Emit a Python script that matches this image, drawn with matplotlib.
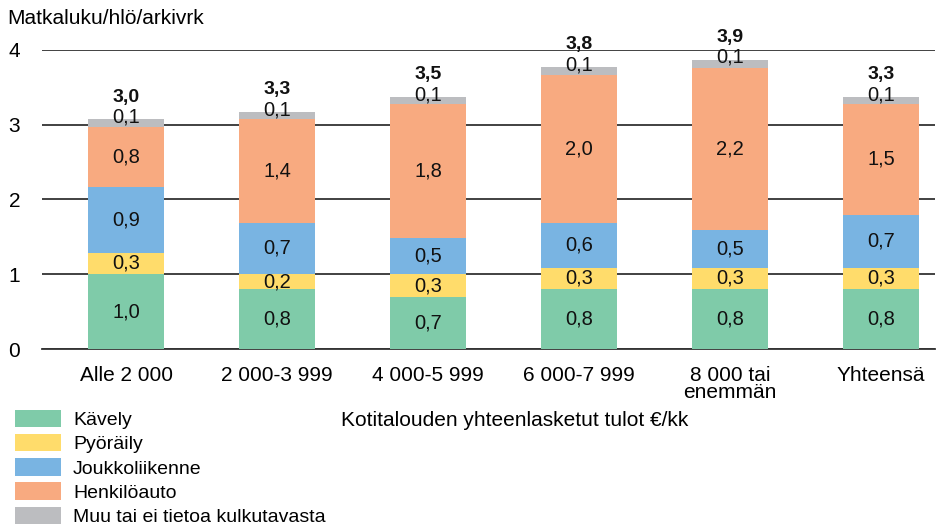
import matplotlib.pyplot as plt
import numpy as np
from matplotlib.patches import Patch

plt.rcParams['font.family'] = ['Liberation Sans', 'DejaVu Sans']

categories = ['Alle 2 000', '2 000-3 999', '4 000-5 999', '6 000-7 999', '8 000 tai\nenemmän', 'Yhteensä']
kavely = [1.0, 0.8, 0.69, 0.8, 0.8, 0.8]
pyoraily = [0.29, 0.2, 0.31, 0.29, 0.29, 0.29]
joukko = [0.88, 0.69, 0.48, 0.6, 0.5, 0.7]
auto = [0.8, 1.39, 1.8, 1.98, 2.17, 1.49]
muu = [0.1, 0.09, 0.09, 0.1, 0.11, 0.09]
segment_labels = [
    ['1,0', '0,8', '0,7', '0,8', '0,8', '0,8'],
    ['0,3', '0,2', '0,3', '0,3', '0,3', '0,3'],
    ['0,9', '0,7', '0,5', '0,6', '0,5', '0,7'],
    ['0,8', '1,4', '1,8', '2,0', '2,2', '1,5'],
    ['0,1', '0,1', '0,1', '0,1', '0,1', '0,1'],
]
totals = ['3,0', '3,3', '3,5', '3,8', '3,9', '3,3']
series_names = ['Kävely', 'Pyöräily', 'Joukkoliikenne', 'Henkilöauto', 'Muu tai ei tietoa kulkutavasta']
colors = ['#7fcba9', '#ffdc6b', '#79b4e2', '#f8aa80', '#bcbdc0']

fig = plt.figure(figsize=(9.39, 5.26), dpi=100)
ax = fig.add_axes([0.045, 0.3365, 0.951, 0.5685])

x = np.arange(len(categories))
series = [kavely, pyoraily, joukko, auto, muu]
bottom = np.zeros(len(categories))
for i, vals in enumerate(series):
    vals = np.array(vals)
    ax.bar(x, vals, 0.5, bottom=bottom, color=colors[i], zorder=3)
    for j in range(len(x)):
        if i == 4:
            ypos = bottom[j] + vals[j] + 0.03
        else:
            ypos = bottom[j] + vals[j] / 2
        ax.text(x[j], ypos, segment_labels[i][j], ha='center', va='center',
                fontsize=14.5, color='#111111', zorder=4)
    bottom = bottom + vals

for j in range(len(x)):
    ax.text(x[j], bottom[j] + 0.3, totals[j], ha='center', va='center',
            fontsize=14, fontweight='bold', color='#111111')

ax.set_xlim(-0.556, 5.36)
ax.set_ylim(0, 4)
ax.set_yticks([0, 1, 2, 3, 4])
ax.set_yticklabels(['0', '1', '2', '3', '4'], fontsize=15)
ax.set_xticks(x)
ax.set_xticklabels(categories, fontsize=15, linespacing=0.9)
ax.tick_params(axis='x', length=0, pad=12)
ax.tick_params(axis='y', length=0, pad=16)
for s in ['left', 'right', 'top']:
    ax.spines[s].set_visible(False)
ax.spines['bottom'].set_color('#333333')
ax.spines['bottom'].set_linewidth(1.3)
ax.grid(axis='y', color='#333333', linewidth=1.3, zorder=1)

fig.text(0.008, 0.965, 'Matkaluku/hlö/arkivrk', fontsize=15, va='center')
fig.text(0.548, 0.2, 'Kotitalouden yhteenlasketut tulot €/kk', fontsize=15, ha='center', va='center')

handles = [Patch(facecolor=c) for c in colors]
fig.legend(handles, series_names, loc='lower left', bbox_to_anchor=(0.001, -0.026),
           frameon=False, fontsize=14, handlelength=2.4, handleheight=1.0,
           labelspacing=0.25, handletextpad=0.6, borderaxespad=0.3)

fig.savefig('out.png', dpi=100)
